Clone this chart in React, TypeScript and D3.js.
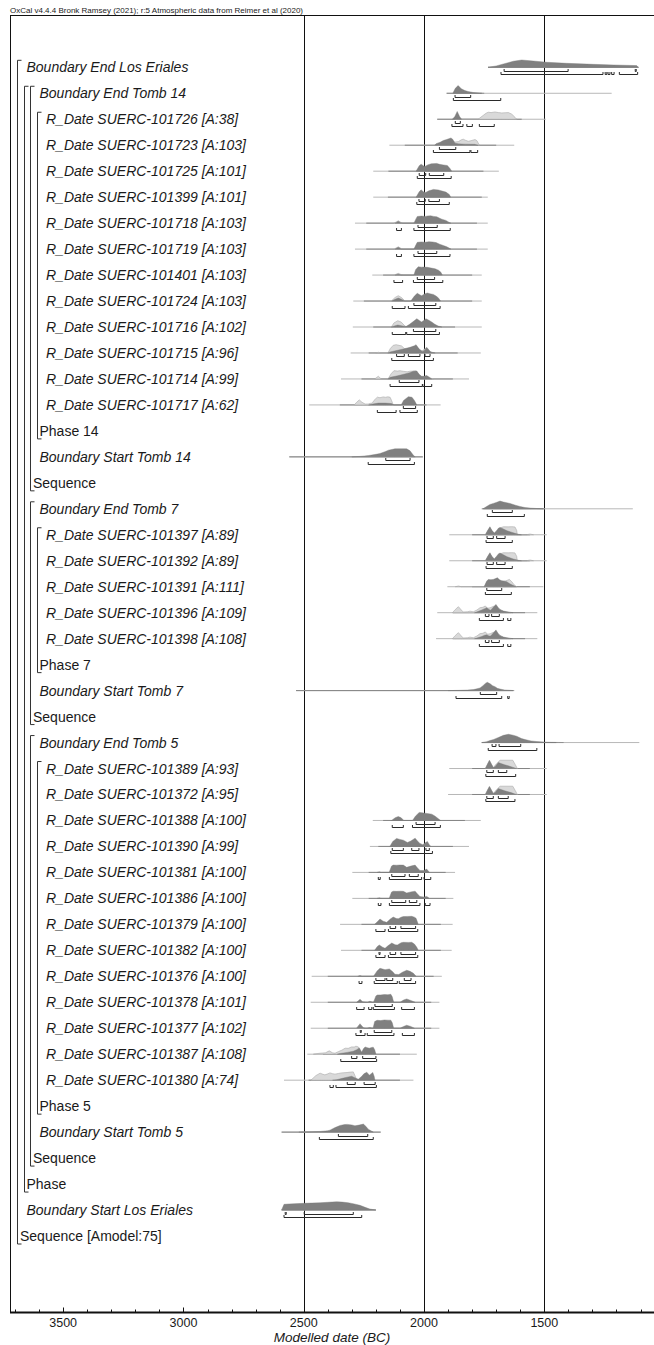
import React from "react";
import * as d3 from "d3";

type Pt = [number, number];
type Span = [number, number];

const headerText =
  "OxCal v4.4.4 Bronk Ramsey (2021); r:5 Atmospheric data from Reimer et al (2020)";
const axisTitle = "Modelled date (BC)";

// Model rows, top to bottom
const rowLabels: string[] = [
  "Boundary End Los Eriales",
  "Boundary End Tomb 14",
  "R_Date SUERC-101726 [A:38]",
  "R_Date SUERC-101723 [A:103]",
  "R_Date SUERC-101725 [A:101]",
  "R_Date SUERC-101399 [A:101]",
  "R_Date SUERC-101718 [A:103]",
  "R_Date SUERC-101719 [A:103]",
  "R_Date SUERC-101401 [A:103]",
  "R_Date SUERC-101724 [A:103]",
  "R_Date SUERC-101716 [A:102]",
  "R_Date SUERC-101715 [A:96]",
  "R_Date SUERC-101714 [A:99]",
  "R_Date SUERC-101717 [A:62]",
  "Phase 14",
  "Boundary Start Tomb 14",
  "Sequence",
  "Boundary End Tomb 7",
  "R_Date SUERC-101397 [A:89]",
  "R_Date SUERC-101392 [A:89]",
  "R_Date SUERC-101391 [A:111]",
  "R_Date SUERC-101396 [A:109]",
  "R_Date SUERC-101398 [A:108]",
  "Phase 7",
  "Boundary Start Tomb 7",
  "Sequence",
  "Boundary End Tomb 5",
  "R_Date SUERC-101389 [A:93]",
  "R_Date SUERC-101372 [A:95]",
  "R_Date SUERC-101388 [A:100]",
  "R_Date SUERC-101390 [A:99]",
  "R_Date SUERC-101381 [A:100]",
  "R_Date SUERC-101386 [A:100]",
  "R_Date SUERC-101379 [A:100]",
  "R_Date SUERC-101382 [A:100]",
  "R_Date SUERC-101376 [A:100]",
  "R_Date SUERC-101378 [A:101]",
  "R_Date SUERC-101377 [A:102]",
  "R_Date SUERC-101387 [A:108]",
  "R_Date SUERC-101380 [A:74]",
  "Phase 5",
  "Boundary Start Tomb 5",
  "Sequence",
  "Phase",
  "Boundary Start Los Eriales",
  "Sequence [Amodel:75]",
];

// Nesting depth of each row in the model
const rowDepth: number[] = [
  1, 3, 4, 4, 4, 4, 4, 4, 4, 4, 4, 4, 4, 4, 3, 3, 2,
  3, 4, 4, 4, 4, 4, 3, 3, 2,
  3, 4, 4, 4, 4, 4, 4, 4, 4, 4, 4, 4, 4, 4, 3, 3, 2,
  1, 1, 0,
];

// Grouping brackets: [depth, first row, last row]
const groups: [number, number, number][] = [
  [0, 0, 45],
  [1, 1, 43],
  [2, 1, 16],
  [3, 2, 14],
  [2, 17, 25],
  [3, 18, 23],
  [2, 26, 42],
  [3, 27, 40],
];

// Modelled (posterior) densities: [year BC, relative probability]
const posteriors: (Pt[] | null)[] = [
  [[1734,0],[1700,0.15],[1670,0.37],[1629,0.67],[1594,0.81],[1546,0.7],[1490,0.56],[1407,0.44],[1296,0.33],[1213,0.26],[1116,0.19],[1110,0]],
  [[1880,0],[1870,0.55],[1858,0.86],[1845,0.5],[1830,0.3],[1817,0.2],[1795,0.08],[1770,0.02],[1750,0]],
  [[1882,0],[1872,0.3],[1862,0.86],[1852,0.3],[1844,0]],
  [[1955,0],[1950,0.17],[1933,0.33],[1920,0.52],[1906,0.63],[1888,0.81],[1881,0.67],[1871,0.22],[1857,0.15],[1830,0.12],[1790,0.1],[1775,0]],
  [[2033,0],[2020,0.6],[2012,0.78],[2003,0.6],[1996,0.52],[1985,0.7],[1970,0.82],[1947,0.86],[1935,0.76],[1920,0.7],[1903,0.63],[1892,0.3],[1885,0]],
  [[2033,0],[2020,0.6],[2012,0.81],[2003,0.6],[1993,0.52],[1980,0.7],[1961,0.86],[1940,0.8],[1933,0.74],[1909,0.56],[1895,0.3],[1889,0]],
  [[2120,0],[2107,0.22],[2095,0],[2042,0],[2033,0.5],[2028,0.74],[2010,0.78],[1995,0.74],[1985,0.8],[1972,0.81],[1960,0.75],[1947,0.7],[1935,0.55],[1926,0.44],[1909,0.3],[1895,0.08],[1888,0]],
  [[2120,0],[2107,0.2],[2095,0],[2042,0],[2033,0.5],[2028,0.75],[2012,0.8],[1995,0.76],[1980,0.82],[1965,0.8],[1950,0.72],[1935,0.55],[1920,0.4],[1905,0.25],[1892,0.06],[1888,0]],
  [[2120,0],[2107,0.1],[2095,0],[2042,0],[2035,0.6],[2024,0.92],[2010,0.88],[2003,0.89],[1986,0.86],[1970,0.78],[1954,0.7],[1938,0.52],[1930,0.3],[1924,0]],
  [[2134,0],[2120,0.2],[2107,0.33],[2094,0.2],[2080,0],[2055,0],[2040,0.55],[2028,0.86],[2018,0.7],[2010,0.59],[1998,0.78],[1986,0.89],[1975,0.8],[1961,0.74],[1950,0.55],[1941,0.37],[1931,0]],
  [[2136,0],[2120,0.15],[2109,0.22],[2095,0.15],[2075,0.05],[2060,0.3],[2045,0.6],[2030,0.92],[2018,0.7],[2010,0.56],[2000,0.75],[1992,0.92],[1980,0.75],[1968,0.56],[1955,0.3],[1941,0.11],[1926,0]],
  [[2150,0],[2141,0.11],[2110,0.3],[2086,0.44],[2058,0.63],[2040,0.8],[2033,0.92],[2025,0.6],[2017,0.37],[2005,0.17],[1995,0.4],[1989,0.63],[1980,0.35],[1972,0.11],[1954,0]],
  [[2150,0],[2141,0.18],[2110,0.35],[2080,0.55],[2060,0.7],[2044,0.86],[2030,0.89],[2020,0.5],[2010,0.3],[2000,0.3],[1989,0.37],[1978,0.2],[1968,0]],
  [[2230,0],[2208,0.12],[2190,0.2],[2160,0.2],[2135,0.15],[2125,0],[2095,0],[2085,0.5],[2065,0.92],[2050,0.85],[2040,0.5],[2030,0]],
  null,
  [[2300,0],[2266,0.05],[2230,0.15],[2200,0.28],[2183,0.37],[2160,0.6],[2148,0.74],[2121,0.89],[2095,0.9],[2072,0.89],[2058,0.67],[2045,0.2],[2037,0]],
  null,
  [[1755,0],[1740,0.25],[1726,0.48],[1712,0.6],[1700,0.7],[1684,0.86],[1670,0.75],[1656,0.68],[1642,0.59],[1620,0.4],[1601,0.26],[1580,0.14],[1559,0.08],[1530,0.03],[1504,0]],
  [[1745,0],[1735,0.5],[1726,0.89],[1718,0.5],[1708,0.19],[1700,0.4],[1690,0.75],[1684,0.81],[1670,0.65],[1655,0.45],[1640,0.32],[1629,0.22],[1608,0.06],[1595,0]],
  [[1745,0],[1735,0.5],[1726,0.89],[1718,0.5],[1708,0.2],[1700,0.45],[1690,0.78],[1684,0.85],[1670,0.66],[1655,0.45],[1640,0.3],[1629,0.2],[1608,0.05],[1595,0]],
  [[1750,0],[1740,0.6],[1733,0.81],[1722,0.78],[1712,0.81],[1703,0.9],[1695,1.0],[1685,0.75],[1677,0.67],[1665,0.6],[1656,0.56],[1645,0.35],[1635,0.22],[1617,0]],
  [[1790,0],[1774,0.15],[1760,0.3],[1748,0.45],[1739,0.56],[1730,0.35],[1723,0.28],[1712,0.6],[1701,0.92],[1690,0.5],[1684,0.33],[1670,0.18],[1656,0.11],[1630,0]],
  [[1790,0],[1774,0.12],[1760,0.25],[1748,0.38],[1739,0.44],[1730,0.3],[1723,0.3],[1712,0.62],[1701,0.97],[1690,0.5],[1684,0.33],[1670,0.18],[1656,0.1],[1630,0]],
  null,
  [[1900,0],[1850,0.03],[1820,0.06],[1795,0.11],[1780,0.2],[1767,0.3],[1755,0.55],[1745,0.8],[1737,0.92],[1725,0.75],[1715,0.55],[1705,0.44],[1695,0.25],[1684,0.17],[1665,0.07],[1642,0.03],[1625,0]],
  null,
  [[1760,0],[1740,0.1],[1726,0.22],[1710,0.35],[1691,0.56],[1670,0.8],[1649,0.92],[1630,0.82],[1615,0.7],[1595,0.45],[1580,0.33],[1555,0.18],[1531,0.11],[1500,0.05],[1476,0.03],[1440,0.01],[1420,0]],
  [[1745,0],[1736,0.5],[1728,0.92],[1720,0.5],[1712,0.1],[1705,0.2],[1691,0.67],[1680,0.55],[1665,0.42],[1650,0.3],[1635,0.18],[1625,0.08],[1615,0]],
  [[1745,0],[1736,0.5],[1728,0.9],[1720,0.5],[1712,0.12],[1705,0.22],[1691,0.66],[1680,0.55],[1665,0.42],[1650,0.3],[1635,0.18],[1625,0.08],[1615,0]],
  [[2135,0],[2120,0.3],[2107,0.44],[2095,0.3],[2084,0],[2048,0],[2035,0.5],[2020,0.89],[2008,0.85],[1996,0.81],[1980,0.75],[1968,0.7],[1955,0.5],[1947,0.33],[1931,0]],
  [[2142,0],[2130,0.55],[2114,0.89],[2100,0.78],[2086,0.7],[2069,0.44],[2055,0.6],[2037,0.92],[2027,0.6],[2017,0.33],[2005,0.2],[1995,0.4],[1986,0.56],[1978,0.2],[1972,0]],
  [[2195,0],[2186,0.06],[2178,0],[2145,0],[2135,0.7],[2128,0.81],[2115,0.8],[2100,0.82],[2086,0.81],[2072,0.56],[2055,0.7],[2037,0.81],[2027,0.5],[2017,0.22],[2000,0.2],[1989,0.37],[1982,0.15],[1978,0]],
  [[2195,0],[2186,0.06],[2178,0],[2145,0],[2135,0.7],[2128,0.8],[2115,0.78],[2100,0.8],[2086,0.78],[2072,0.6],[2055,0.72],[2037,0.8],[2027,0.5],[2017,0.2],[2000,0.15],[1989,0.22],[1982,0.1],[1978,0]],
  [[2205,0],[2192,0.35],[2183,0.59],[2170,0.35],[2155,0.22],[2140,0.6],[2128,0.81],[2115,0.65],[2107,0.63],[2095,0.8],[2086,0.86],[2070,0.88],[2051,0.89],[2040,0.8],[2033,0.67],[2024,0]],
  [[2205,0],[2195,0.4],[2186,0.59],[2172,0.35],[2162,0.22],[2150,0.5],[2134,0.81],[2120,0.62],[2111,0.59],[2095,0.85],[2086,0.89],[2065,0.88],[2051,0.89],[2040,0.7],[2030,0.33],[2024,0]],
  [[2275,0],[2266,0.08],[2257,0],[2210,0],[2195,0.6],[2183,0.89],[2172,0.8],[2162,0.74],[2144,0.81],[2130,0.5],[2121,0.22],[2105,0.2],[2090,0.45],[2072,0.67],[2058,0.55],[2044,0.33],[2033,0]],
  [[2280,0],[2266,0.33],[2255,0.05],[2235,0],[2225,0.11],[2215,0.02],[2210,0],[2200,0.7],[2194,0.81],[2180,0.82],[2165,0.86],[2150,0.84],[2138,0.89],[2132,0.6],[2126,0],[2100,0],[2085,0.25],[2072,0.37],[2055,0.2],[2037,0]],
  [[2280,0],[2266,0.45],[2252,0.05],[2240,0],[2225,0.08],[2212,0],[2205,0.75],[2195,0.88],[2180,0.85],[2165,0.92],[2150,0.9],[2138,0.9],[2132,0.6],[2126,0],[2100,0],[2085,0.2],[2072,0.33],[2055,0.2],[2040,0]],
  [[2360,0],[2349,0.08],[2320,0.2],[2294,0.33],[2280,0.5],[2269,0.7],[2259,0.22],[2252,0.6],[2245,0.81],[2235,0.72],[2227,0.67],[2218,0.75],[2211,0.78],[2205,0.5],[2200,0]],
  [[2380,0],[2363,0.05],[2340,0.2],[2320,0.33],[2301,0.44],[2290,0.3],[2273,0.11],[2260,0.4],[2250,0.7],[2238,0.89],[2227,0.56],[2213,0.86],[2207,0.4],[2204,0]],
  null,
  [[2520,0],[2470,0.03],[2430,0.08],[2400,0.16],[2391,0.22],[2370,0.5],[2349,0.74],[2330,0.84],[2319,0.86],[2300,0.8],[2287,0.7],[2270,0.78],[2252,0.89],[2240,0.6],[2232,0.33],[2211,0]],
  null,
  null,
  [[2592,0],[2582,0.63],[2560,0.68],[2502,0.74],[2432,0.81],[2400,0.86],[2363,0.92],[2340,0.88],[2315,0.81],[2290,0.68],[2266,0.52],[2245,0.3],[2225,0.11],[2200,0]],
  null,
];

// Unmodelled calibrated likelihoods, drawn where they differ from the posterior
const likelihoods: (Pt[] | null)[] = [
  null,
  null,
  [[1870,0],[1862,0.2],[1855,0],[1775,0],[1770,0.1],[1742,0.67],[1733,0.78],[1721,0.74],[1705,0.81],[1691,0.74],[1677,0.7],[1663,0.72],[1649,0.74],[1635,0.56],[1622,0.22],[1615,0]],
  [[1955,0],[1933,0.2],[1906,0.3],[1888,0.45],[1871,0.35],[1857,0.4],[1845,0.6],[1837,0.67],[1828,0.55],[1816,0.44],[1805,0.5],[1788,0.63],[1780,0.5],[1770,0]],
  null,
  null,
  [[2125,0],[2107,0.25],[2090,0]],
  [[2125,0],[2107,0.25],[2090,0]],
  [[2125,0],[2107,0.19],[2090,0]],
  [[2136,0],[2120,0.4],[2107,0.59],[2094,0.4],[2079,0]],
  [[2136,0],[2125,0.45],[2109,0.7],[2095,0.55],[2079,0.1],[2070,0]],
  [[2200,0],[2190,0.08],[2180,0],[2150,0],[2140,0.5],[2128,0.85],[2116,0.92],[2104,0.85],[2093,0.78],[2082,0.5],[2072,0.45],[2058,0.55],[2040,0.7],[2030,0.75],[2020,0.4],[2010,0.2],[1992,0.55],[1980,0.2],[1960,0]],
  [[2205,0],[2190,0.3],[2178,0],[2150,0],[2136,0.6],[2125,0.92],[2110,0.88],[2100,0.92],[2086,0.85],[2070,0.8],[2058,0.86],[2045,0.88],[2033,0.89],[2020,0.5],[2010,0.22],[1990,0.3],[1975,0.1],[1960,0]],
  [[2290,0],[2280,0.3],[2269,0.56],[2258,0.3],[2245,0.1],[2232,0.1],[2225,0.17],[2215,0.2],[2208,0.5],[2194,0.86],[2183,0.8],[2170,0.89],[2160,0.85],[2150,0.9],[2141,0.85],[2135,0.5],[2128,0],[2095,0],[2075,0.45],[2060,0.55],[2045,0.45],[2030,0]],
  null,
  null,
  null,
  null,
  [[1745,0],[1735,0.45],[1726,0.8],[1718,0.45],[1708,0.15],[1695,0.5],[1680,0.8],[1670,0.89],[1650,0.88],[1635,0.9],[1622,0.87],[1615,0.5],[1612,0],[1575,0],[1559,0.08],[1545,0]],
  [[1745,0],[1735,0.45],[1726,0.8],[1718,0.45],[1708,0.15],[1695,0.5],[1680,0.8],[1670,0.89],[1650,0.88],[1635,0.9],[1622,0.87],[1615,0.5],[1612,0],[1575,0],[1559,0.08],[1545,0]],
  [[1870,0],[1857,0.08],[1845,0],[1750,0],[1733,0.7],[1712,0.72],[1695,0.85],[1677,0.6],[1660,0.65],[1645,0.81],[1635,0.55],[1625,0.2],[1615,0]],
  [[1882,0],[1870,0.35],[1857,0.67],[1845,0.3],[1837,0.08],[1820,0.1],[1809,0.17],[1795,0.1],[1780,0.3],[1767,0.56],[1755,0.6],[1746,0.74],[1735,0.5],[1725,0.55],[1712,0.7],[1700,0.75],[1690,0.5],[1680,0.3],[1670,0.15],[1650,0.05],[1640,0]],
  [[1882,0],[1870,0.35],[1857,0.67],[1845,0.3],[1837,0.08],[1820,0.1],[1809,0.17],[1795,0.1],[1780,0.3],[1767,0.56],[1755,0.6],[1746,0.74],[1735,0.5],[1725,0.55],[1712,0.7],[1700,0.75],[1690,0.5],[1680,0.3],[1670,0.15],[1650,0.05],[1640,0]],
  null,
  null,
  null,
  null,
  [[1745,0],[1736,0.45],[1728,0.85],[1720,0.45],[1712,0.1],[1700,0.5],[1684,0.92],[1631,0.92],[1620,0.4],[1612,0]],
  [[1745,0],[1736,0.45],[1728,0.85],[1720,0.45],[1712,0.1],[1700,0.5],[1684,0.92],[1631,0.92],[1620,0.4],[1612,0]],
  null,
  null,
  null,
  null,
  null,
  null,
  null,
  null,
  [[2280,0],[2266,0.5],[2252,0]],
  [[2460,0],[2432,0.11],[2410,0.15],[2394,0.37],[2380,0.15],[2370,0.11],[2355,0.3],[2342,0.44],[2328,0.67],[2315,0.65],[2301,0.81],[2290,0.8],[2283,0.89],[2273,0.81],[2262,0.2],[2255,0.25],[2245,0.6],[2232,0.55],[2220,0.6],[2210,0.4],[2200,0]],
  [[2470,0],[2450,0.5],[2432,0.78],[2420,0.65],[2412,0.59],[2400,0.7],[2391,0.81],[2380,0.72],[2370,0.67],[2355,0.75],[2342,0.81],[2320,0.85],[2305,0.9],[2294,0.92],[2287,0.5],[2280,0]],
  null,
  null,
  null,
  null,
  null,
  null,
];

// Full extent of each likelihood (faint line) and of the posterior (darker line)
const fullSpans: (Span | null)[] = [
  [1734,1108],[1906,1220],[1945,1494],[2144,1625],[2211,1689],[2211,1735],[2287,1735],[2287,1735],
  [2215,1760],[2294,1760],[2296,1760],[2305,1764],[2345,1813],[2477,1931],null,[2560,2005],null,
  [1753,1132],[1895,1490],[1895,1490],[1903,1504],[1945,1529],[1950,1529],null,[2532,1629],null,
  [1760,1105],[1895,1490],[1900,1490],[2213,1764],[2225,1813],[2298,1871],[2298,1878],[2349,1881],
  [2345,1885],[2467,1926],[2471,1936],[2471,1936],[2485,2030],[2582,2044],null,[2592,2180],null,
  null,[2592,2200],null,
];
const coreSpans: (Span | null)[] = [
  [1734,1108],[1906,1760],[1945,1594],[2080,1700],[2148,1753],[2150,1760],[2240,1780],[2240,1780],
  [2170,1800],[2250,1800],[2211,1871],[2230,1860],[2260,1880],[2350,1990],null,[2560,2005],null,
  [1760,1500],[1800,1560],[1800,1560],[1800,1560],[1880,1580],[1880,1580],null,[2532,1629],null,
  [1760,1450],[1800,1560],[1800,1560],[2170,1830],[2190,1880],[2230,1910],[2230,1910],[2260,1930],
  [2260,1930],[2400,1960],[2400,1970],[2400,1970],[2420,2100],[2480,2100],null,[2592,2180],null,
  null,[2592,2200],null,
];

// Highest posterior density ranges (68.3% and 95.4%)
const hpd68: Span[][] = [
  [[1667,1401],[1122,1118]],[[1871,1806]],[[1870,1849]],[[1936,1868]],
  [[2020,1993],[1978,1918]],[[2021,1995],[1980,1936]],[[2025,1945]],[[2025,1947]],
  [[2028,1956]],[[2042,1951]],[[2044,1951]],[[2114,2082],[2065,2017],[1996,1975]],
  [[2103,2021]],[[2086,2035]],[],[[2159,2058]],[],
  [[1716,1633]],[[1738,1712],[1698,1663]],[[1738,1712],[1698,1663]],[[1739,1677]],
  [[1745,1730],[1719,1687]],[[1745,1730],[1719,1687]],[],[[1766,1698]],[],
  [[1717,1701],[1688,1598]],[[1739,1712],[1691,1656]],[[1739,1712],[1691,1650]],
  [[2033,1954]],[[2132,2086],[2051,2021],[1992,1978]],[[2134,2079],[2061,2024]],
  [[2134,2076],[2061,2030]],[[2141,2118],[2096,2035]],[[2187,2185],[2141,2118],[2096,2035]],
  [[2200,2162],[2155,2130],[2082,2054]],[[2204,2132]],[[2265,2261],[2207,2134]],
  [[2301,2279],[2255,2200]],[[2319,2286],[2249,2203]],[],[[2356,2234]],[],
  [],[[2577,2573],[2498,2294]],[],
];
const hpd95: Span[][] = [
  [[1680,1256],[1247,1240],[1235,1227],[1220,1210],[1188,1112]],[[1878,1681]],
  [[1884,1838],[1822,1799],[1770,1708]],[[1961,1809],[1805,1777]],[[2028,1887]],[[2030,1895]],
  [[2114,2094],[2042,1891]],[[2114,2094],[2042,1892]],[[2125,2089],[2044,1922]],
  [[2132,2079],[2065,1933]],[[2132,2076],[2072,1936]],[[2134,1961]],[[2141,2007],[2005,1968]],
  [[2194,2116],[2100,2028]],[],[[2232,2040]],[],
  [[1737,1583]],[[1742,1633]],[[1742,1633]],[[1745,1637]],[[1770,1670],[1652,1639]],
  [[1770,1670],[1652,1639]],[],[[1867,1677],[1652,1646]],[],
  [[1733,1531]],[[1743,1619]],[[1743,1622]],[[2132,2086],[2048,1932]],[[2138,1965]],
  [[2190,2182],[2144,2010],[2000,1972]],[[2190,2179],[2144,2017],[1995,1975]],
  [[2200,2162],[2148,2026]],[[2200,2162],[2148,2026]],[[2270,2258],[2207,2111],[2103,2035]],
  [[2280,2249],[2230,2217],[2211,2123],[2093,2040]],[[2283,2245],[2236,2125],[2090,2040]],
  [[2346,2197]],[[2391,2377],[2366,2198]],[],[[2435,2211]],[],
  [],[[2582,2259]],[],
];

const labelledTicks = [3500, 3000, 2500, 2000, 1500];
const gridYears = [2500, 2000, 1500];

const FONT = "'Liberation Sans', Arial, Helvetica, sans-serif";

export default function App() {
  const width = 654;
  const height = 1345;
  const left = 10;
  const top = 15.5;
  const axisY = 1312.5;

  const x = d3.scaleLinear().domain([3721, 1044]).range([left, width]);
  const rowBase = d3.scaleLinear().domain([0, 45]).range([67.3, 1236]);
  const dens = d3.scaleLinear().domain([0, 1]).range([0, 9]);
  const indent = d3.scaleLinear().domain([0, 4]).range([20, 46]);

  const minorTicks = d3.range(1100, 3701, 100);

  const areaFor = (base: number) =>
    d3
      .area<Pt>()
      .x((d) => x(d[0]))
      .y0(base)
      .y1((d) => base - dens(d[1]));

  const bracketPath = (r: Span, y: number) => {
    const a = x(r[0]);
    const b = Math.max(x(r[1]), a + 1);
    return `M${a},${y - 2.5}V${y}H${b}V${y - 2.5}`;
  };

  const labelBaseline = (i: number) => rowBase(i) + 5;

  return (
    <svg
      width={width}
      height={height}
      viewBox={`0 0 ${width} ${height}`}
      style={{ position: "absolute", left: 0, top: 0, background: "#fff" }}
      fontFamily={FONT}
    >
      <rect x={0} y={0} width={width} height={height} fill="#fff" />
      <text x={left} y={12.5} fontSize={8} fill="#222">
        {headerText}
      </text>

      {/* frame */}
      <line x1={left} x2={width} y1={top} y2={top} stroke="#111" strokeWidth={1} />
      <line x1={left + 0.5} x2={left + 0.5} y1={top} y2={axisY} stroke="#111" strokeWidth={1} />
      {gridYears.map((g) => (
        <line
          key={g}
          x1={Math.round(x(g)) + 0.5}
          x2={Math.round(x(g)) + 0.5}
          y1={top}
          y2={axisY}
          stroke="#111"
          strokeWidth={1}
        />
      ))}

      {/* grouping brackets */}
      {groups.map(([depth, r0, r1], k) => {
        const bx = Math.round(indent(depth) - 3) + 0.5;
        const y0 = labelBaseline(r0) - 12;
        const y1 = labelBaseline(r1) + 3;
        return (
          <path
            key={k}
            d={`M${bx + 4},${y0}H${bx}V${y1}H${bx + 4}`}
            fill="none"
            stroke="#333"
            strokeWidth={1}
          />
        );
      })}

      {/* row labels */}
      {rowLabels.map((lab, i) => {
        const italic = lab.startsWith("Boundary") || lab.startsWith("R_Date");
        return (
          <text
            key={i}
            x={indent(rowDepth[i])}
            y={labelBaseline(i)}
            fontSize={14}
            fontStyle={italic ? "italic" : "normal"}
            fill="#1a1a1a"
          >
            {lab}
          </text>
        );
      })}

      {/* distributions */}
      {rowLabels.map((_, i) => {
        const base = rowBase(i);
        const post = posteriors[i];
        const like = likelihoods[i];
        const full = fullSpans[i];
        const core = coreSpans[i];
        const y68 = Math.round(base + 3.5) + 0.5;
        const y95 = Math.round(base + 7) + 0.5;
        return (
          <g key={i}>
            {full && (
              <line x1={x(full[0])} x2={x(full[1])} y1={base} y2={base} stroke="#b8b8b8" strokeWidth={1} />
            )}
            {core && (
              <line x1={x(core[0])} x2={x(core[1])} y1={base} y2={base} stroke="#858585" strokeWidth={1} />
            )}
            {like && (
              <path d={areaFor(base)(like) || ""} fill="#d9d9d9" stroke="#a9a9a9" strokeWidth={0.6} />
            )}
            {post && <path d={areaFor(base)(post) || ""} fill="#808080" stroke="#787878" strokeWidth={0.4} />}
            {hpd68[i].map((r, k) => (
              <path key={`a${k}`} d={bracketPath(r, y68)} fill="none" stroke="#2a2a2a" strokeWidth={1} />
            ))}
            {hpd95[i].map((r, k) => (
              <path key={`b${k}`} d={bracketPath(r, y95)} fill="none" stroke="#2a2a2a" strokeWidth={1} />
            ))}
          </g>
        );
      })}

      {/* axis */}
      <line x1={left} x2={width} y1={axisY} y2={axisY} stroke="#111" strokeWidth={2} />
      {minorTicks.map((t) => (
        <line
          key={`m${t}`}
          x1={Math.round(x(t)) + 0.5}
          x2={Math.round(x(t)) + 0.5}
          y1={axisY}
          y2={axisY - 3}
          stroke="#111"
          strokeWidth={1}
        />
      ))}
      {labelledTicks.map((t) => (
        <g key={`t${t}`}>
          <line
            x1={Math.round(x(t)) + 0.5}
            x2={Math.round(x(t)) + 0.5}
            y1={axisY}
            y2={axisY - 5}
            stroke="#111"
            strokeWidth={1}
          />
          <text x={x(t)} y={1327} fontSize={12.5} textAnchor="middle" fill="#1a1a1a">
            {t}
          </text>
        </g>
      ))}
      <text
        x={(left + width) / 2}
        y={1342}
        fontSize={13.5}
        fontStyle="italic"
        textAnchor="middle"
        fill="#1a1a1a"
      >
        {axisTitle}
      </text>
    </svg>
  );
}
